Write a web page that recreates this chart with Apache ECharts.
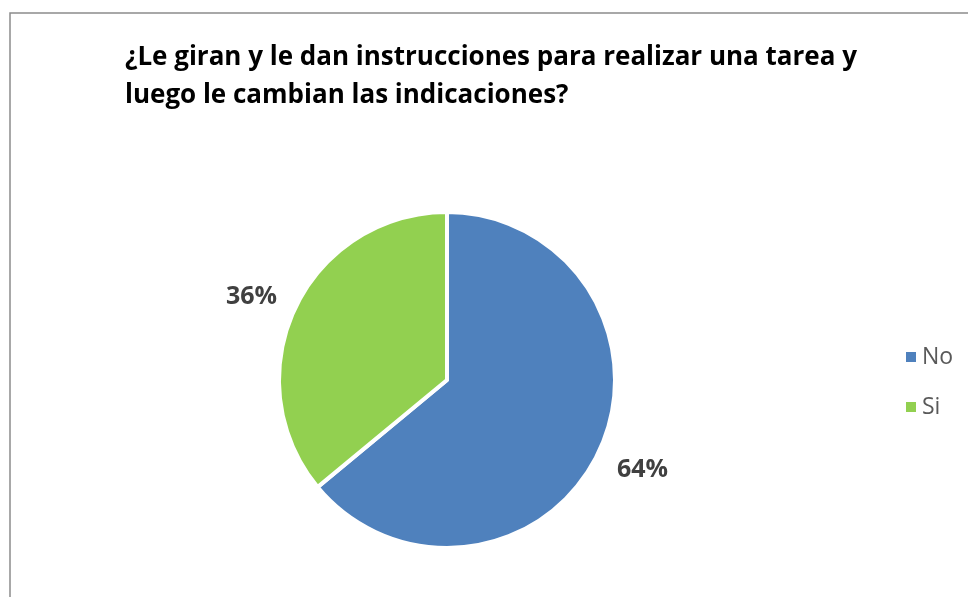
<!DOCTYPE html>
<html>
<head>
<meta charset="utf-8" />
<title>Pie</title>
<script src="https://cdn.jsdelivr.net/npm/echarts@6/dist/echarts.min.js"></script>
<style>
  html, body { margin: 0; padding: 0; background: #fff; }
  #main { width: 968px; height: 597px; }
</style>
</head>
<body>
<div id="main"></div>
<script>
// datos
var categorias = ['No', 'Si'];
var porcentajes = [64, 36];
var colores = ['#4F81BD', '#92D050'];
var titulo = '¿Le giran y le dan instrucciones para realizar una tarea y\nluego le cambian las indicaciones?';

var datos = categorias.map(function (c, i) {
  return { name: c, value: porcentajes[i], itemStyle: { color: colores[i] } };
});

// pequeño ajuste de posición de cada etiqueta
var ajusteEtiqueta = [[0, -2], [0, 9]];

var chart = echarts.init(document.getElementById('main'));
chart.setOption({
  backgroundColor: '#fff',
  animation: false,
  title: {
    text: titulo,
    left: 120,
    top: 34,
    textStyle: {
      fontFamily: 'Open Sans',
      fontWeight: 'bold',
      fontSize: 26,
      lineHeight: 38,
      color: '#000'
    }
  },
  legend: {
    orient: 'vertical',
    left: 899,
    top: 337,
    icon: 'rect',
    itemWidth: 12,
    itemHeight: 12,
    itemGap: 20,
    data: categorias,
    textStyle: { fontFamily: 'Open Sans', fontSize: 23, lineHeight: 30, color: '#595959' }
  },
  graphic: [{
    type: 'rect',
    shape: { x: 10, y: 13, width: 1000, height: 1000 },
    style: { fill: 'none', stroke: '#8c8c8c', lineWidth: 1.5 },
    silent: true
  }],
  series: [{
    type: 'pie',
    center: [447, 380],
    radius: 168,
    startAngle: 90,
    clockwise: true,
    data: datos,
    label: { show: false },
    labelLine: { show: false },
    itemStyle: { borderColor: '#fff', borderWidth: 4 },
    emphasis: { disabled: true }
  }, {
    // anillo invisible solo para las etiquetas de porcentaje
    type: 'pie',
    center: [447, 380],
    radius: [200, 226],
    startAngle: 90,
    clockwise: true,
    silent: true,
    data: datos.map(function (d, i) {
      return {
        name: d.name,
        value: d.value,
        itemStyle: { color: 'rgba(0,0,0,0)' },
        label: { offset: ajusteEtiqueta[i] }
      };
    }),
    label: {
      show: true,
      position: 'inside',
      formatter: '{c}%',
      fontFamily: 'Open Sans',
      fontWeight: 'bold',
      fontSize: 25,
      color: '#404040'
    },
    labelLine: { show: false },
    emphasis: { disabled: true }
  }]
});
</script>
</body>
</html>
